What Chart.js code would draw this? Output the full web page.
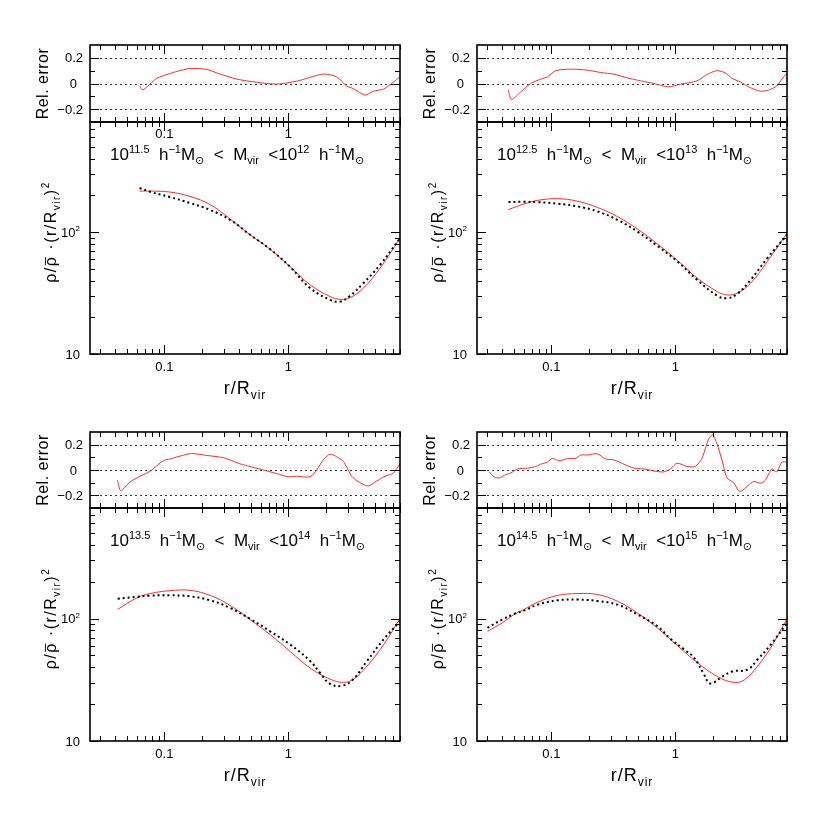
<!DOCTYPE html>
<html>
<head>
<meta charset="utf-8">
<script src="https://cdn.jsdelivr.net/npm/chart.js@4.4.1/dist/chart.umd.min.js"></script>
<style>
html, body { margin: 0; padding: 0; background: #fff; }
#fig { position: relative; width: 830px; height: 830px; }
canvas { position: absolute; }
</style>
</head>
<body>
<div id="fig"></div>
<script>
// ---- data ----
// top-left: 10^11.5 < Mvir < 10^12
const tlR = [0.063, 0.0767, 0.111, 0.161, 0.234, 0.339, 0.491, 0.711, 1.03, 1.5, 2.17, 2.61, 3.14, 4.02, 5.48, 7.94];
const tlRed = [217, 217, 213, 196, 168, 128, 95, 72.5, 52, 36.9, 29.6, 28.1, 29, 34.7, 50.6, 89];
const tlDot = [230, 214, 194, 173, 152, 126, 95, 72.5, 52, 34.7, 27.8, 26.9, 30, 38.1, 53.8, 89];
const tlErrR = [0.0628, 0.0668, 0.0867, 0.111, 0.126, 0.161, 0.219, 0.264, 0.383, 0.555, 0.805, 1.167, 1.914, 2.45, 2.95, 3.34, 4.15, 4.84, 5.83, 6.81, 7.94];
const tlErr = [-0.018, -0.05, 0.04, 0.078, 0.094, 0.117, 0.11, 0.083, 0.034, 0.01, -0.005, 0.018, 0.073, 0.052, -0.02, -0.04, -0.091, -0.06, -0.044, 0, 0.052];

// top-right: 10^12.5 < Mvir < 10^13
const trR = [0.045, 0.06, 0.0776, 0.112, 0.163, 0.236, 0.341, 0.494, 0.716, 1.04, 1.5, 2.18, 2.62, 3.15, 4.04, 5.5, 7.96];
const trRed = [153, 170, 182, 188, 179, 159, 134, 106, 80, 58.5, 41.9, 32.5, 30.5, 31.6, 38.1, 57.3, 98];
const trDot = [176.6, 177, 176, 171, 162.5, 147.5, 126, 101, 77, 57.3, 40.5, 30, 28.7, 31.1, 40.5, 61, 95];
const trErrR = [0.0448, 0.0477, 0.0566, 0.0682, 0.082, 0.0929, 0.1084, 0.143, 0.195, 0.249, 0.319, 0.408, 0.523, 0.669, 0.883, 1.096, 1.493, 1.797, 2.163, 2.524, 2.856, 3.334, 3.89, 4.83, 5.63, 6.57, 7.21, 7.91];
const trErr = [-0.05, -0.125, -0.065, 0, 0.034, 0.052, 0.1, 0.112, 0.104, 0.086, 0.073, 0.044, 0.021, 0, -0.026, -0.005, 0.02, 0.07, 0.1, 0.083, 0.04, 0.013, -0.026, -0.06, -0.052, -0.02, 0.034, 0.078];

// bottom-left: 10^13.5 < Mvir < 10^14
const blR = [0.042, 0.06, 0.0767, 0.111, 0.161, 0.234, 0.339, 0.491, 0.711, 1.03, 1.5, 2.17, 2.78, 3.34, 4.28, 5.84, 7.94];
const blRed = [119, 147.6, 160, 169, 170, 154.5, 128, 98, 74, 54, 39.4, 32, 30.1, 32, 40.6, 61, 100];
const blDotR = [0.042, 0.06, 0.0767, 0.111, 0.161, 0.234, 0.339, 0.491, 0.711, 1.03, 1.5, 1.8, 2.17, 2.7, 3.34, 4.28, 5.84, 7.94];
const blDot = [145, 150.6, 154, 155, 152, 141, 122, 99.5, 78.7, 61.5, 45, 36, 29.3, 28.2, 32, 44.7, 67.3, 95];
const blErrR = [0.0418, 0.0445, 0.0528, 0.0637, 0.0766, 0.0982, 0.111, 0.1337, 0.166, 0.219, 0.299, 0.407, 0.628, 0.805, 1.0, 1.167, 1.495, 1.69, 1.914, 2.167, 2.45, 2.78, 3.24, 3.78, 4.42, 5.15, 6.02, 7.03, 7.94];
const blErr = [-0.08, -0.164, -0.095, -0.049, -0.01, 0.074, 0.087, 0.11, 0.13, 0.115, 0.097, 0.049, 0, -0.028, -0.054, -0.049, -0.054, 0, 0.08, 0.125, 0.105, 0.067, -0.049, -0.1, -0.126, -0.087, -0.049, -0.023, 0.049];

// bottom-right: 10^14.5 < Mvir < 10^15
const brR = [0.0305, 0.04, 0.05, 0.06, 0.0776, 0.112, 0.163, 0.236, 0.341, 0.494, 0.716, 1.04, 1.5, 2.18, 2.97, 3.6, 4.57, 5.85, 7.94];
const brRed = [78.8, 92, 108, 118.5, 136, 154.5, 160, 157, 138.6, 111, 83.8, 60, 43.8, 33.6, 30.1, 31.6, 40.6, 57.5, 100];
const brDotR = [0.0305, 0.04, 0.05, 0.06, 0.0776, 0.112, 0.163, 0.236, 0.341, 0.494, 0.716, 0.916, 1.175, 1.41, 1.7, 1.87, 2.05, 2.39, 2.88, 3.8, 4.57, 5.85, 7.94];
const brDot = [83.8, 98, 109, 116, 130, 141, 143, 139, 130, 108, 86.5, 68, 56, 48, 35, 29.7, 30.1, 33.6, 37, 38.2, 46, 61, 92];
const brErrR = [0.0316, 0.0346, 0.038, 0.0429, 0.0471, 0.0533, 0.0642, 0.0726, 0.082, 0.0929, 0.1019, 0.1153, 0.1346, 0.157, 0.172, 0.195, 0.2345, 0.2735, 0.319, 0.384, 0.462, 0.591, 0.669, 0.805, 0.912, 1.031, 1.24, 1.448, 1.637, 1.854, 1.997, 2.163, 2.372, 2.604, 2.946, 3.23, 3.44, 4.26, 4.83, 5.30, 5.99, 6.57, 7.21, 7.91];
const brErr = [-0.015, -0.056, -0.062, -0.036, -0.023, 0.008, 0.015, 0.023, 0.046, 0.062, 0.092, 0.072, 0.09, 0.092, 0.118, 0.118, 0.128, 0.087, 0.08, 0.046, 0.015, 0.005, -0.008, -0.015, 0.008, 0.054, 0.028, 0.028, 0.092, 0.246, 0.277, 0.208, 0.08, -0.062, -0.1, -0.164, -0.164, -0.09, -0.105, -0.082, 0.008, -0.015, 0.062, 0.062];

// axes
const xMin = Math.pow(10, -1.6), xMax = Math.pow(10, 0.9);
const xMajor = [0.1, 1];
const xMinor = [0.03, 0.04, 0.05, 0.06, 0.07, 0.08, 0.09, 0.2, 0.3, 0.4, 0.5, 0.6, 0.7, 0.8, 0.9, 2, 3, 4, 5, 6, 7, 8];
const mainMajor = [10, 100];
const mainMinor = [20, 30, 40, 50, 60, 70, 80, 90, 200, 300, 400, 500, 600, 700];
const errMajor = [-0.2, 0, 0.2];
const errMinor = [-0.1, 0.1];

const FONT = '"Liberation Sans", "DejaVu Sans", sans-serif';

// parts: [text, mode] mode 0 normal, 1 superscript, -1 subscript, 2 overlined
function drawRich(ctx, parts, x, y, size, align, spacing) {
    const small = Math.round(size * 0.64);
    const fontFor = m => ((m === 1 || m === -1) ? small : size) + 'px ' + FONT;
    ctx.letterSpacing = (spacing || 0) + 'px';
    let w = 0;
    parts.forEach(([t, m]) => { ctx.font = fontFor(m); w += ctx.measureText(t).width; });
    let cx = align === 'center' ? x - w / 2 : align === 'right' ? x - w : x;
    ctx.textAlign = 'left';
    ctx.textBaseline = 'alphabetic';
    parts.forEach(([t, m]) => {
        ctx.font = fontFor(m);
        const dy = m === 1 ? -size * 0.42 : m === -1 ? size * 0.25 : 0;
        ctx.fillText(t, cx, y + dy);
        const tw = ctx.measureText(t).width;
        if (m === 2) {
            ctx.beginPath();
            ctx.lineWidth = 0.9;
            ctx.moveTo(cx + 1, y - size * 0.66);
            ctx.lineTo(cx + tw - (spacing || 0), y - size * 0.66);
            ctx.stroke();
        }
        cx += tw;
    });
    ctx.letterSpacing = '0px';
}

const framePlugin = {
    id: 'frame',
    beforeDatasetsDraw(chart, args, o) {
        if (!o.refLines) return;
        const { ctx, chartArea: a, scales: { y } } = chart;
        ctx.save();
        ctx.strokeStyle = '#222';
        ctx.lineWidth = 0.9;
        ctx.setLineDash([2, 3]);
        o.refLines.forEach(v => {
            const py = Math.round(y.getPixelForValue(v)) + 0.5;
            ctx.beginPath();
            ctx.moveTo(a.left, py);
            ctx.lineTo(a.right, py);
            ctx.stroke();
        });
        ctx.restore();
    },
    afterDraw(chart, args, o) {
        const { ctx, chartArea: a, scales: { x, y } } = chart;
        ctx.save();
        ctx.strokeStyle = '#000';
        ctx.fillStyle = '#000';
        ctx.lineWidth = 1;
        ctx.beginPath();
        xMajor.concat(xMinor).forEach(v => {
            const len = xMajor.includes(v) ? 9 : 5;
            const px = Math.round(x.getPixelForValue(v)) + 0.5;
            ctx.moveTo(px, a.bottom); ctx.lineTo(px, a.bottom - len);
            ctx.moveTo(px, a.top); ctx.lineTo(px, a.top + len);
        });
        o.yMajor.concat(o.yMinor).forEach(v => {
            const len = o.yMajor.includes(v) ? 9 : 5;
            const py = Math.round(y.getPixelForValue(v)) + 0.5;
            ctx.moveTo(a.left, py); ctx.lineTo(a.left + len, py);
            ctx.moveTo(a.right, py); ctx.lineTo(a.right - len, py);
        });
        ctx.stroke();
        ctx.lineWidth = 1.6;
        ctx.strokeRect(a.left, a.top, a.right - a.left, a.bottom - a.top);

        // y tick labels
        o.yLabels.forEach(([v, parts, dx]) => {
            drawRich(ctx, parts, a.left - dx, y.getPixelForValue(v) + 4.5, 13, 'right');
        });
        // x tick labels
        if (o.xLabelsBelow) {
            [[0.1, '0.1'], [1, '1']].forEach(([v, t]) => {
                drawRich(ctx, [[t, 0]], x.getPixelForValue(v), a.bottom + 17, 13, 'center');
            });
        }
        if (o.xLabelsTop) {
            [[0.1, '0.1'], [1, '1']].forEach(([v, t]) => {
                drawRich(ctx, [[t, 0]], x.getPixelForValue(v), a.top + 16, 13, 'center');
            });
        }
        const midY = (a.top + a.bottom) / 2;
        if (o.kind === 'err') {
            ctx.translate(a.left - 42, midY);
            ctx.rotate(-Math.PI / 2);
            drawRich(ctx, [['Rel. error', 0]], 0, 0, 16, 'center', 0.5);
        } else {
            drawRich(ctx, [['r/R', 0], ['vir', -1]], (a.left + a.right) / 2, a.bottom + 40, 18, 'center', 1);
            drawRich(ctx, o.note, a.left + 20, a.top + 38, 17, 'left');
            ctx.translate(a.left - 34, midY - 6);
            ctx.rotate(-Math.PI / 2);
            drawRich(ctx, [['\u03c1/', 0], ['\u03c1', 2], [' \u00b7(r/R', 0], ['vir', -1], [')', 0], ['2', 1]], 0, 0, 16, 'center', 1.5);
        }
        ctx.restore();
    }
};

function pts(xs, ys) {
    return xs.map((v, i) => ({ x: v, y: ys[i] }));
}

function subplot(areaLeft, areaTop, areaH, kind, datasets, extra) {
    const pad = kind === 'err'
        ? { left: 90, right: 15, top: 10, bottom: 10 }
        : { left: 90, right: 15, top: 10, bottom: 55 };
    const w = 310 + pad.left + pad.right;
    const h = areaH + pad.top + pad.bottom;
    const c = document.createElement('canvas');
    c.width = w; c.height = h;
    c.style.width = w + 'px'; c.style.height = h + 'px';
    c.style.left = (areaLeft - pad.left) + 'px';
    c.style.top = (areaTop - pad.top) + 'px';
    document.getElementById('fig').appendChild(c);
    const isErr = kind === 'err';
    new Chart(c, {
        type: 'line',
        data: { datasets },
        options: {
            responsive: false,
            animation: false,
            layout: { padding: pad },
            elements: { point: { radius: 0 } },
            plugins: {
                legend: { display: false },
                tooltip: { enabled: false },
                frame: Object.assign({
                    kind,
                    yMajor: isErr ? errMajor : mainMajor,
                    yMinor: isErr ? errMinor : mainMinor,
                    refLines: isErr ? [0.2, 0, -0.2] : null,
                    yLabels: isErr
                        ? [[0.2, [['0.2', 0]], 7], [0, [['0', 0]], 13], [-0.2, [['\u22120.2', 0]], 7]]
                        : [[10, [['10', 0]], 10], [100, [['10', 0], ['2', 1]], 10]],
                    xLabelsBelow: !isErr
                }, extra)
            },
            scales: {
                x: { type: 'logarithmic', min: xMin, max: xMax, display: false },
                y: isErr
                    ? { type: 'linear', min: -0.3, max: 0.3, display: false }
                    : { type: 'logarithmic', min: 10, max: 800, display: false }
            }
        },
        plugins: [framePlugin]
    });
}

function panel(left, errTop, mainTop, mainBottom, r, red, dotR, dot, errR, err, lo, hi, topLabels) {
    subplot(left, errTop, mainTop - errTop, 'err', [
        { data: pts(errR, err), borderColor: '#ff2a2a', borderWidth: 1, tension: 0.25 }
    ], {});
    const note = [['10', 0], [lo, 1], ['  h', 0], ['\u22121', 1], ['M', 0], ['\u2299', -1],
        ['  <  M', 0], ['vir', -1], ['  <10', 0], [hi, 1], ['  h', 0], ['\u22121', 1], ['M', 0], ['\u2299', -1]];
    subplot(left, mainTop, mainBottom - mainTop, 'main', [
        { data: pts(dotR, dot), borderColor: '#000', borderWidth: 2, borderDash: [2, 3], tension: 0.4 },
        { data: pts(r, red), borderColor: '#ff2a2a', borderWidth: 1, tension: 0.4 }
    ], { note, xLabelsTop: topLabels });
}

panel(90, 45, 122, 354, tlR, tlRed, tlR, tlDot, tlErrR, tlErr, '11.5', '12', true);
panel(477, 45, 122, 354, trR, trRed, trR, trDot, trErrR, trErr, '12.5', '13', false);
panel(90, 432, 508, 741, blR, blRed, blDotR, blDot, blErrR, blErr, '13.5', '14', false);
panel(477, 432, 508, 741, brR, brRed, brDotR, brDot, brErrR, brErr, '14.5', '15', false);
</script>
</body>
</html>
